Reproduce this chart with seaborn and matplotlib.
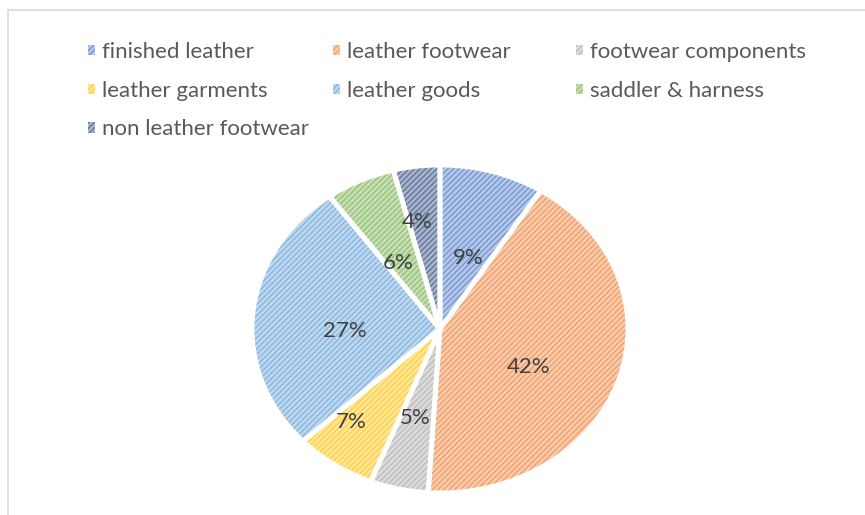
import numpy as np
import matplotlib
matplotlib.use("Agg")
import matplotlib.pyplot as plt
import matplotlib.colors as mcolors
from matplotlib.lines import Line2D
import seaborn as sns

sns.set_theme(style="white")
plt.rcParams['font.family'] = ['Lato', 'DejaVu Sans']

categories = ["finished leather", "leather footwear", "footwear components",
              "leather garments", "leather goods", "saddler & harness",
              "non leather footwear"]
shares = [9, 42, 5, 7, 27, 6, 4]
colors = ["#4472C4", "#ED7D31", "#A5A5A5", "#FFC000", "#5B9BD5", "#70AD47", "#264478"]
# where Excel put the percentage labels (axes data units)
label_pos = [(0.15, 0.43), (0.47, -0.23), (-0.13, -0.54), (-0.47, -0.57),
             (-0.505, -0.01), (-0.22, 0.40), (-0.12, 0.65)]

pal = sns.color_palette(colors)
light = [tuple(0.6 + 0.4 * np.array(c)) for c in pal]

plt.rcParams['hatch.linewidth'] = 0.9

fig = plt.figure(figsize=(8.65, 5.15), dpi=100)
ax = fig.add_axes([0.2913, 0.0427, 0.4347, 0.6369])

wedges, texts, autotexts = ax.pie(shares, colors=light, startangle=90, counterclock=False,
                                  autopct="%d%%", pctdistance=0.55, radius=1,
                                  wedgeprops=dict(linewidth=0, hatch="//////"))
for w, c in zip(wedges, pal):
    w.set_edgecolor(mcolors.to_rgba(c, 0.6))

# white gaps between slices
ax.pie(shares, colors=["none"] * len(shares), startangle=90, counterclock=False, radius=1,
       wedgeprops=dict(linewidth=3.5, edgecolor="white", fill=False))

for t, (x, y) in zip(autotexts, label_pos):
    t.set_position((x, y))
    t.set_fontsize(16)
    t.set_color("#404040")

ax.set_aspect("auto")
ax.set_xlim(-1.0, 1.0)
ax.set_ylim(-1.0, 1.0)
ax.axis("off")

# Excel lays the legend out row by row in equal-width columns
columns = [[0, 3, 6], [1, 4], [2, 5]]
col_x = [88 / 865, 333 / 865, 576 / 865]
for idx, x0 in zip(columns, col_x):
    leg = fig.legend([wedges[i] for i in idx], [categories[i] for i in idx],
                     loc="upper left", bbox_to_anchor=(x0, 0.919),
                     frameon=False, fontsize=16, handlelength=0.32, handleheight=0.32,
                     handletextpad=0.3, labelspacing=0.85, borderpad=0,
                     borderaxespad=0, labelcolor="#595959")

fig.add_artist(Line2D([8 / 865, 8 / 865], [0, 505 / 515], color="#d9d9d9", lw=1.2))
fig.add_artist(Line2D([8 / 865, 1.0], [505 / 515, 505 / 515], color="#d9d9d9", lw=1.2))

fig.savefig("out.png", dpi=100, facecolor="white")
